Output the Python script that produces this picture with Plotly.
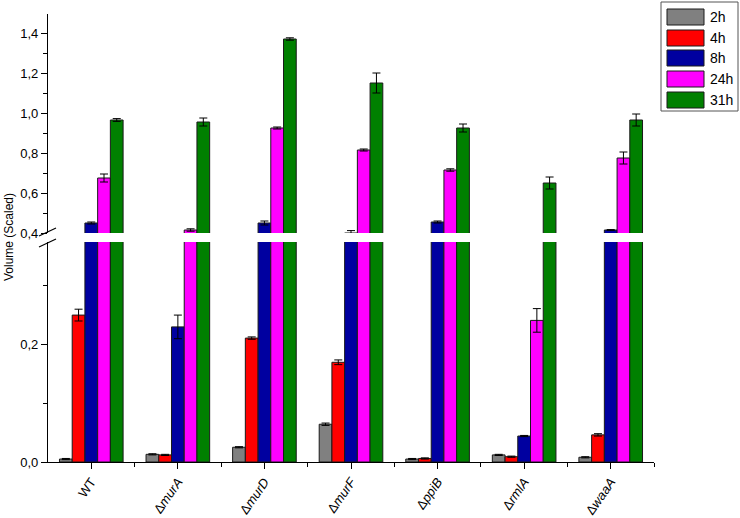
import plotly.graph_objects as go

# ── Data ─────────────────────────────────────────────
categories = ["WT", "Δ<i>murA</i>", "Δ<i>murD</i>", "Δ<i>murF</i>",
              "Δ<i>ppiB</i>", "Δ<i>rmlA</i>", "Δ<i>waaA</i>"]
series = ["2h", "4h", "8h", "24h", "31h"]

v_2h = [0.005, 0.013, 0.025, 0.064, 0.005, 0.012, 0.008]
v_4h = [0.249, 0.012, 0.210, 0.169, 0.006, 0.009, 0.046]
v_8h = [0.450, 0.229, 0.450, 0.400, 0.455, 0.044, 0.415]
v_24h = [0.675, 0.415, 0.925, 0.815, 0.715, 0.240, 0.775]
v_31h = [0.965, 0.955, 1.370, 1.150, 0.925, 0.650, 0.965]

e_2h = [0.001, 0.001, 0.001, 0.002, 0.001, 0.001, 0.001]
e_4h = [0.010, 0.001, 0.002, 0.004, 0.001, 0.001, 0.002]
e_8h = [0.005, 0.020, 0.010, 0.012, 0.005, 0.001, 0.002]
e_24h = [0.020, 0.006, 0.005, 0.005, 0.006, 0.020, 0.030]
e_31h = [0.007, 0.020, 0.006, 0.050, 0.020, 0.030, 0.030]

values = [v_2h, v_4h, v_8h, v_24h, v_31h]
errors = [e_2h, e_4h, e_8h, e_24h, e_31h]
COLORS = ["#808080", "#FF0000", "#0000A0", "#FF00FF", "#008000"]

FONT = "Liberation Sans, Arial, sans-serif"

# ── Plot geometry (pixels) ───────────────────────────
W, H = 740, 518
L, R, T, B = 48, 654, 14, 462


def px(x):
    return (x - L) / (R - L)


def py(y):
    return (B - y) / (B - T)


BAR_W = 0.147
xpos = list(range(len(categories)))

fig = go.Figure()
for i, (name, vals, errs) in enumerate(zip(series, values, errors)):
    for yax in ("y", "y2"):
        fig.add_trace(go.Bar(
            x=xpos, y=vals, name=name, yaxis=yax,
            width=BAR_W, offset=(i - 2.5) * BAR_W,
            marker=dict(color=COLORS[i], line=dict(color="#1a1a1a", width=1)),
            error_y=dict(type="data", array=errs, color="black",
                         thickness=1, width=4),
            showlegend=False,
        ))

axis_common = dict(
    showline=True, linecolor="black", linewidth=1.3,
    ticks="outside", ticklen=6, tickwidth=1.3, tickcolor="black",
    showgrid=False, zeroline=False, automargin=False,
    tickfont=dict(family=FONT, size=13, color="black"),
)

fig.update_layout(
    width=W, height=H,
    margin=dict(l=L, r=W - R, t=T, b=H - B),
    paper_bgcolor="white", plot_bgcolor="white",
    separators=", ",
    barmode="overlay",
    font=dict(family=FONT, size=13, color="black"),
    xaxis=dict(
        **axis_common,
        range=[-0.5, 6.5],
        tickmode="array", tickvals=xpos, ticktext=categories,
        tickangle=-55,
        minor=dict(tickmode="array",
                   tickvals=[p + 0.5 for p in xpos],
                   ticks="outside", ticklen=4, tickcolor="black", tickwidth=1.3),
        anchor="y",
    ),
    yaxis=dict(
        **axis_common,
        domain=[0, py(242)],
        range=[0, (B - 242) / 590],
        tickvals=[0, 0.2], tickformat=".1f",
        minor=dict(tickvals=[0.1, 0.3], ticks="outside", ticklen=4,
                   tickcolor="black", tickwidth=1.3),
        anchor="x",
    ),
    yaxis2=dict(
        **axis_common,
        domain=[py(233), 1],
        range=[0.4, 0.4 + (233 - T) / 200],
        tickvals=[0.4, 0.6, 0.8, 1.0, 1.2, 1.4], tickformat=".1f",
        minor=dict(tickvals=[0.5, 0.7, 0.9, 1.1, 1.3], ticks="outside",
                   ticklen=4, tickcolor="black", tickwidth=1.3),
        anchor="x",
    ),
)

# axis break marks
for y0, y1 in [(236, 228), (247, 239)]:
    fig.add_shape(type="line", xref="paper", yref="paper",
                  x0=px(39), y0=py(y0), x1=px(56), y1=py(y1),
                  line=dict(color="black", width=1.3))

# y title
fig.add_annotation(text="Volume (Scaled)", xref="paper", yref="paper",
                   x=px(9), y=py(237), xanchor="center", yanchor="middle",
                   textangle=-90, showarrow=False,
                   font=dict(family=FONT, size=12, color="black"))

# legend box
fig.add_shape(type="rect", xref="paper", yref="paper",
              x0=px(661), y0=py(111), x1=px(738), y1=py(2),
              line=dict(color="#555555", width=1), fillcolor="white")
row_y = [17, 38, 58, 79, 100]
for name, color, yc in zip(series, COLORS, row_y):
    fig.add_shape(type="rect", xref="paper", yref="paper",
                  x0=px(667), y0=py(yc + 8), x1=px(704), y1=py(yc - 8),
                  line=dict(color="#1a1a1a", width=1), fillcolor=color)
    fig.add_annotation(text=name, xref="paper", yref="paper",
                       x=px(708), y=py(yc), xanchor="left", yanchor="middle",
                       showarrow=False,
                       font=dict(family=FONT, size=14, color="black"))

# drop the default page margin so the figure sits at the window origin
fig.write_html("out.html", config={"displayModeBar": False},
               post_script="document.body.style.margin='0';")
